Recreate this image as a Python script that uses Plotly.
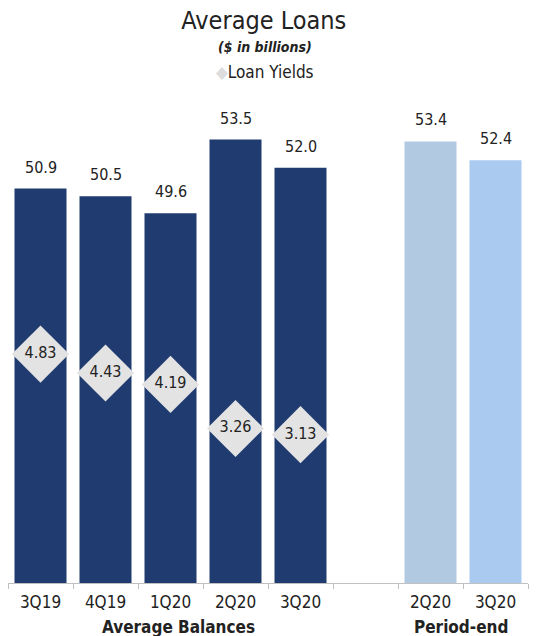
import plotly.graph_objects as go

# ---- data ----
avg_quarters = ["3Q19", "4Q19", "1Q20", "2Q20", "3Q20"]
avg_balances = [50.9, 50.5, 49.6, 53.5, 52.0]
loan_yields = [4.83, 4.43, 4.19, 3.26, 3.13]
pe_quarters = ["2Q20", "3Q20"]
pe_balances = [53.4, 52.4]
pe_colors = ["#b1c9e1", "#aacbef"]
group_labels = ["Average Balances", "Period-end"]

FONT = "DejaVu Sans Condensed, Liberation Sans Narrow, sans-serif"
NAVY = "#1f3b6f"
TXT = "#222222"

avg_x = list(range(len(avg_quarters)))
pe_x = [len(avg_quarters) + 1 + i for i in range(len(pe_quarters))]
n_slots = len(avg_quarters) + 1 + len(pe_quarters)

fig = go.Figure()
fig.add_trace(go.Bar(x=avg_x, y=avg_balances, marker=dict(color=NAVY, line=dict(width=0)),
                     width=0.8, showlegend=False, hoverinfo="y"))
fig.add_trace(go.Bar(x=pe_x, y=pe_balances, marker=dict(color=pe_colors, line=dict(width=0)),
                     width=0.8, showlegend=False, hoverinfo="y"))
fig.add_trace(go.Scatter(x=avg_x, y=loan_yields, yaxis="y2", mode="markers+text",
                         marker=dict(symbol="diamond", size=44, color="#e3e3e3", line=dict(width=0)),
                         text=[f"{v:.2f}" for v in loan_yields], textposition="middle center",
                         textfont=dict(family=FONT, size=16, color=TXT),
                         name="Loan Yields", showlegend=False))

annotations = []
for x, v in list(zip(avg_x, avg_balances)) + list(zip(pe_x, pe_balances)):
    annotations.append(dict(x=x, y=v, xref="x", yref="y", text=f"{v:.1f}", showarrow=False,
                            yanchor="bottom", yshift=10, font=dict(family=FONT, size=16, color=TXT)))

annotations += [
    dict(x=0.5, y=1.1097, xref="paper", yref="paper", text="<b><i>($ in billions)</i></b>",
         showarrow=False, xanchor="center", yanchor="middle", xshift=-3,
         font=dict(family=FONT, size=14, color=TXT)),
    dict(x=0.5, y=1.058, xref="paper", yref="paper",
         text="<span style='color:#dcdcdc'>◆</span>Loan Yields",
         showarrow=False, xanchor="center", yanchor="middle", xshift=-3,
         font=dict(family=FONT, size=17, color=TXT)),
    dict(x=(len(avg_quarters) - 1) / 2, y=-0.091, xref="x", yref="paper", text=f"<b>{group_labels[0]}</b>",
         showarrow=False, xanchor="center", yanchor="middle", xshift=8,
         font=dict(family=FONT, size=17, color=TXT)),
    dict(x=sum(pe_x) / len(pe_x), y=-0.091, xref="x", yref="paper", text=f"<b>{group_labels[1]}</b>",
         showarrow=False, xanchor="center", yanchor="middle", xshift=-2,
         font=dict(family=FONT, size=17, color=TXT)),
]

fig.update_layout(
    width=544, height=636,
    margin=dict(l=8, r=16, t=100, b=53, pad=0),
    paper_bgcolor="white", plot_bgcolor="white",
    title=dict(text="Average Loans", x=0.485, xanchor="center", y=1 - 20 / 636, yanchor="middle",
               yref="container", font=dict(family=FONT, size=25, color=TXT)),
    bargap=0.2,
    xaxis=dict(range=[-0.5, n_slots - 0.5], tickvals=avg_x + pe_x, ticktext=avg_quarters + pe_quarters,
               ticks="", showgrid=False, zeroline=False, showline=True, linecolor="#c0c0c0", linewidth=1,
               tickfont=dict(family=FONT, size=17, color=TXT), ticklabelstandoff=4,
               minor=dict(tickvals=[i - 0.5 for i in range(n_slots + 1)], ticks="outside",
                          ticklen=5, tickcolor="#c0c0c0", tickwidth=1, showgrid=False)),
    yaxis=dict(range=[30, 30 + 483 / 18.87], visible=False, showgrid=False, zeroline=False),
    yaxis2=dict(range=[0, 483 / 47.4], overlaying="y", visible=False, showgrid=False, zeroline=False),
    annotations=annotations,
    showlegend=False,
)

fig.write_html("out.html", config={"displayModeBar": False},
               post_script="document.body.style.margin='0';document.body.style.overflow='hidden';")
